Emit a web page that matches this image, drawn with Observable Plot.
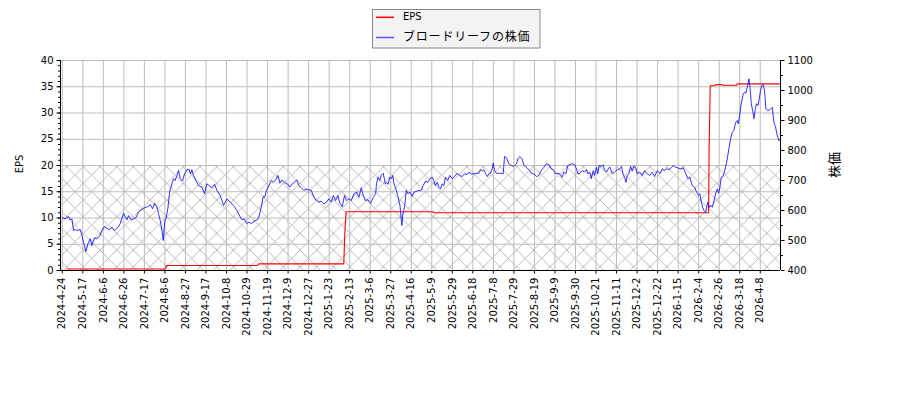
<!DOCTYPE html>
<html><head><meta charset="utf-8">
<script src="https://cdn.jsdelivr.net/npm/d3@7"></script>
<script src="https://cdn.jsdelivr.net/npm/@observablehq/plot@0.6"></script>
<style>
body{margin:0;background:#fff;font-family:"DejaVu Sans","Noto Sans CJK JP",sans-serif}
#chart{position:relative;width:900px;height:400px}
</style>
</head><body><div id="chart"></div>
<script>
// x = trading-day index; a tick label every 14 trading days
const tickLabels = ["2024-4-24","2024-5-17","2024-6-6","2024-6-26","2024-7-17","2024-8-6","2024-8-27","2024-9-17","2024-10-8","2024-10-29","2024-11-19","2024-12-9","2024-12-27","2025-1-23","2025-2-13","2025-3-6","2025-3-27","2025-4-16","2025-5-9","2025-5-29","2025-6-18","2025-7-8","2025-7-29","2025-8-19","2025-9-9","2025-9-30","2025-10-21","2025-11-11","2025-12-2","2025-12-22","2026-1-15","2026-2-4","2026-2-26","2026-3-18","2026-4-8"];
const tickStep = 14;
const xDomain = [-1.2, 489.8];

// stock price (right axis, yen)
const priceIdx = [0,2,4.3,5.4,6.6,7.7,8.9,10,12.3,13.4,14.5,16.1,17.5,19.1,20.2,22,23.6,25.9,27,28.8,30.4,32,33.9,35.7,38,39.5,41.8,43,44.1,45.2,47,48.6,50.2,52,53.9,56.1,58.4,60,61.6,63,64.5,65.7,66.8,68,68.9,69.8,70.7,72,73.2,74.8,75.9,77,78.2,79.3,80.5,82,83.4,85,86.6,87.5,88.4,89.5,91.1,93,95.2,97,98.6,100.2,102.1,103.9,105.5,107.7,110,112.3,114.5,116.8,119.1,121.4,122.5,124.1,125.9,
127.3,128.9,130.7,133,134.1,135.7,137.1,138,139.3,140.9,142.5,143.9,145.5,147.1,148.4,150,151.6,153.4,155.2,156.8,158.4,159.8,161.4,163,164.8,166.6,168.2,169.8,171.6,173.4,175,176.6,178.4,180.2,181.8,183.4,184.8,186.4,188,189.3,190.9,192.5,193.9,195.5,197.1,198.9,200.7,202.3,203.9,205.3,206.8,208.4,210.3,212.1,213.7,214.3,215.3,216.6,217.5,218.9,220.3,221.2,222.1,223.4,224.4,225.3,226.2,227.5,228.9,230.3,230.9,231.6,232.3,233.4,234.6,235.7,237.1,238.7,239.8,241.6,243.2,
244.8,246.1,247.7,249.3,250.7,252.3,253.4,254.5,255.7,256.8,257.9,259.1,260.2,261.3,262.9,264.3,265.9,267.5,269.3,271.1,272.7,274.3,276.1,277.3,278.9,280.7,282.5,284.1,285.2,286.4,287.5,288.6,289.8,290.9,292,293.2,293.9,294.8,296.1,297.7,299.3,300.7,301.6,302.9,304.5,306.1,307.9,309.8,310.7,312,313.6,314.8,316.6,318.2,319.8,321.6,323.4,325,326.6,328.4,330.2,331.8,333.4,334.8,336.4,338,339.3,340.9,342,343.4,344.8,346.1,347.7,349.3,350.7,351.6,353,354.6,356.1,357.5,358.4,359.8,360.7,362.1,363,364.3,365.2,366.1,367.5,368.9,369.8,371.1,372.7,
373.5,375.1,376.6,378.5,380.3,381.4,382.6,383.5,384.4,385.3,386.4,387.6,388.7,389.8,391,392.1,393.9,395.5,397.1,398.9,400.7,402.3,403.9,405.7,407.6,409.2,410.7,412.1,413.7,415.3,416.7,418.2,419.8,421.7,423.5,425.1,426.7,428,429.6,431.2,432.6,433.9,434.8,435.8,436.7,437.6,438.7,439.4,440.3,441.2,442.1,443.3,443.9,444.8,445.8,446.7,447.6,448.5,449.4,450.3,451.2,452.3,453.5,454.6,455.8,456.9,458,459.2,460.3,461,462.1,463,464.4,465.3,466.2,467.1,467.6,468.3,469,469.9,470.8,471.7,472.6,473.5,474.4,475.3,476.2,477.1,478,478.9,479.8,481.2,482.6,484.2,485.3,486.4,487.6,488.7,489.8];
const priceVal = [576,572,580,569,572,533,537,533,536,517,494,463,489,506,483,509,506,517,533,547,541,536,544,533,544,556,591,578,569,583,569,572,576,594,602,609,613,620,606,624,613,589,567,533,500,561,572,606,661,689,706,700,717,733,706,698,722,736,736,722,736,717,700,683,678,656,689,683,676,687,667,650,617,639,628,617,600,578,569,572,556,
561,556,564,569,578,611,647,644,667,683,700,694,702,717,691,702,694,689,678,689,694,702,683,676,667,672,669,667,644,633,628,631,622,628,639,628,650,633,650,624,613,650,633,639,633,656,661,644,676,650,633,636,624,644,656,689,711,700,717,724,689,694,687,711,706,717,689,672,647,617,583,550,589,611,667,656,661,647,661,664,667,
667,683,698,694,706,711,700,683,694,678,672,689,683,711,700,717,706,713,724,717,713,722,720,728,722,722,724,724,736,731,736,724,713,722,724,739,758,733,724,724,724,722,780,776,756,750,747,756,772,780,772,750,744,736,724,722,713,717,733,744,756,753,739,736,722,724,722,711,728,722,750,753,756,753,739,722,724,733,728,736,722,728,706,733,717,744,722,750,747,752,736,728,742,
744,722,728,736,739,747,717,711,694,717,722,747,731,747,744,722,728,717,733,722,717,728,713,733,724,739,733,739,736,742,750,744,742,739,742,724,706,711,683,678,661,650,656,628,611,600,594,611,628,611,617,611,622,639,661,672,658,678,711,713,722,744,772,806,839,861,867,894,900,889,922,956,989,994,991,1011,1022,1039,1011,956,933,906,939,956,950,972,1000,1017,1020,1000,939,933,936,944,894,878,850,833,840];

// EPS (left axis)
const epsIdx = [3,70.4,71,133,134,192,192.4,193,193.6,253,253.5,440.8,441.1,441.9,445,445.5,450,450.3,460,460.3,489.8];
const epsVal = [0.3,0.3,0.95,0.95,1.27,1.27,4.8,8.9,11.2,11.2,11.0,11.0,23.2,35.2,35.2,35.4,35.4,35.3,35.3,35.55,35.55];

const epsDomain = [0, 40];
const priceDomain = [400, 1100];
const hatchBand = [0, 19.8]; // EPS units

const toEps = p => (p - priceDomain[0]) / (priceDomain[1] - priceDomain[0]) * (epsDomain[1] - epsDomain[0]);
const toPrice = e => priceDomain[0] + e / (epsDomain[1] - epsDomain[0]) * (priceDomain[1] - priceDomain[0]);

const priceData = priceIdx.map((x, i) => ({x, y: toEps(priceVal[i])}));
const epsData = epsIdx.map((x, i) => ({x, y: epsVal[i]}));
const xTicks = tickLabels.map((_, i) => i * tickStep);
const hatchData = [{x1: xDomain[0], x2: xDomain[1], y1: hatchBand[0], y2: hatchBand[1]}];

const font = '"DejaVu Sans","Noto Sans CJK JP",sans-serif';
const chart = Plot.plot({
  width: 900, height: 400,
  marginLeft: 60, marginRight: 120, marginTop: 60, marginBottom: 130,
  style: {fontFamily: font, fontSize: "10px", color: "#000", background: "#fff", overflow: "visible"},
  x: {domain: xDomain},
  y: {domain: epsDomain},
  marks: [
    Plot.rect(hatchData, {x1: "x1", x2: "x2", y1: "y1", y2: "y2", fill: "url(#hatch)"}),
    Plot.gridX({ticks: xTicks, stroke: "#bcbcbc", strokeOpacity: 1, strokeWidth: 1}),
    Plot.gridY({ticks: d3.range(0, 41, 5), stroke: "#bcbcbc", strokeOpacity: 1, strokeWidth: 1}),
    Plot.line(epsData, {x: "x", y: "y", stroke: "#ff0000", strokeWidth: 1.1}),
    Plot.line(priceData, {x: "x", y: "y", stroke: "#0000ff", strokeWidth: 0.8}),
    Plot.ruleX([xDomain[0], xDomain[1]], {stroke: "#000", strokeWidth: 1}),
    Plot.ruleY([0], {stroke: "#000", strokeWidth: 1}),
    Plot.axisY({ticks: d3.range(0, 41, 1), tickSize: 2, tickFormat: () => "", label: null}),
    Plot.axisY({ticks: d3.range(0, 41, 5), tickSize: 3.5, tickPadding: 3.5, fontSize: 10, label: null}),
    Plot.axisY({anchor: "right", ticks: d3.range(400, 1101, 50).map(toEps), tickSize: 2, tickFormat: () => "", label: null}),
    Plot.axisY({anchor: "right", ticks: d3.range(400, 1101, 100).map(toEps), tickSize: 3.5, tickPadding: 3.5, fontSize: 10, tickFormat: v => String(Math.round(toPrice(v))), label: null}),
    Plot.axisX({ticks: xTicks, tickSize: 3.5, tickPadding: 3.5, tickRotate: -90, fontSize: 10, tickFormat: d => tickLabels[Math.round(d / tickStep)], label: null})
  ]
});
document.getElementById("chart").appendChild(chart);

const svg = d3.select(chart);
const defs = svg.insert("defs", ":first-child");
const s = 16.67;
const pat = defs.append("pattern").attr("id", "hatch").attr("patternUnits", "userSpaceOnUse")
  .attr("width", s).attr("height", s);
pat.append("path").attr("d", `M-2,-2L${s+2},${s+2}M-2,${s+2}L${s+2},-2`)
  .attr("stroke", "#a8a8a8").attr("stroke-width", 0.8).attr("fill", "none");

// axis titles
svg.append("text").attr("transform", "translate(20,164) rotate(-90)")
  .attr("text-anchor", "middle").attr("dominant-baseline", "middle")
  .attr("font-family", font).attr("font-size", 10).attr("fill", "#000").text("EPS");
svg.append("text").attr("transform", "translate(835,165) rotate(-90)")
  .attr("text-anchor", "middle").attr("dominant-baseline", "middle")
  .attr("font-family", font).attr("font-size", 13).attr("fill", "#000").text("株価");

// legend
const lg = svg.append("g").attr("text-anchor", "start");
lg.append("rect").attr("x", 372.5).attr("y", 9.5).attr("width", 167.5).attr("height", 38.5)
  .attr("fill", "#f3f3f3").attr("stroke", "#888").attr("stroke-width", 1);
const items = [{label: "EPS", color: "#ff0000", y: 17.3}, {label: "ブロードリーフの株価", color: "#5555ff", y: 37.5}];
items.forEach(it => {
  lg.append("line").attr("x1", 376).attr("x2", 394).attr("y1", it.y).attr("y2", it.y)
    .attr("stroke", it.color).attr("stroke-width", 1.5);
  lg.append("text").attr("x", 403).attr("y", it.y).attr("dominant-baseline", "middle")
    .attr("text-anchor", "start")
    .attr("font-family", font).attr("font-size", it.label === "EPS" ? 10 : 12)
    .attr("letter-spacing", it.label === "EPS" ? 0 : 0.8)
    .attr("fill", "#000").text(it.label);
});
</script>
</body></html>
